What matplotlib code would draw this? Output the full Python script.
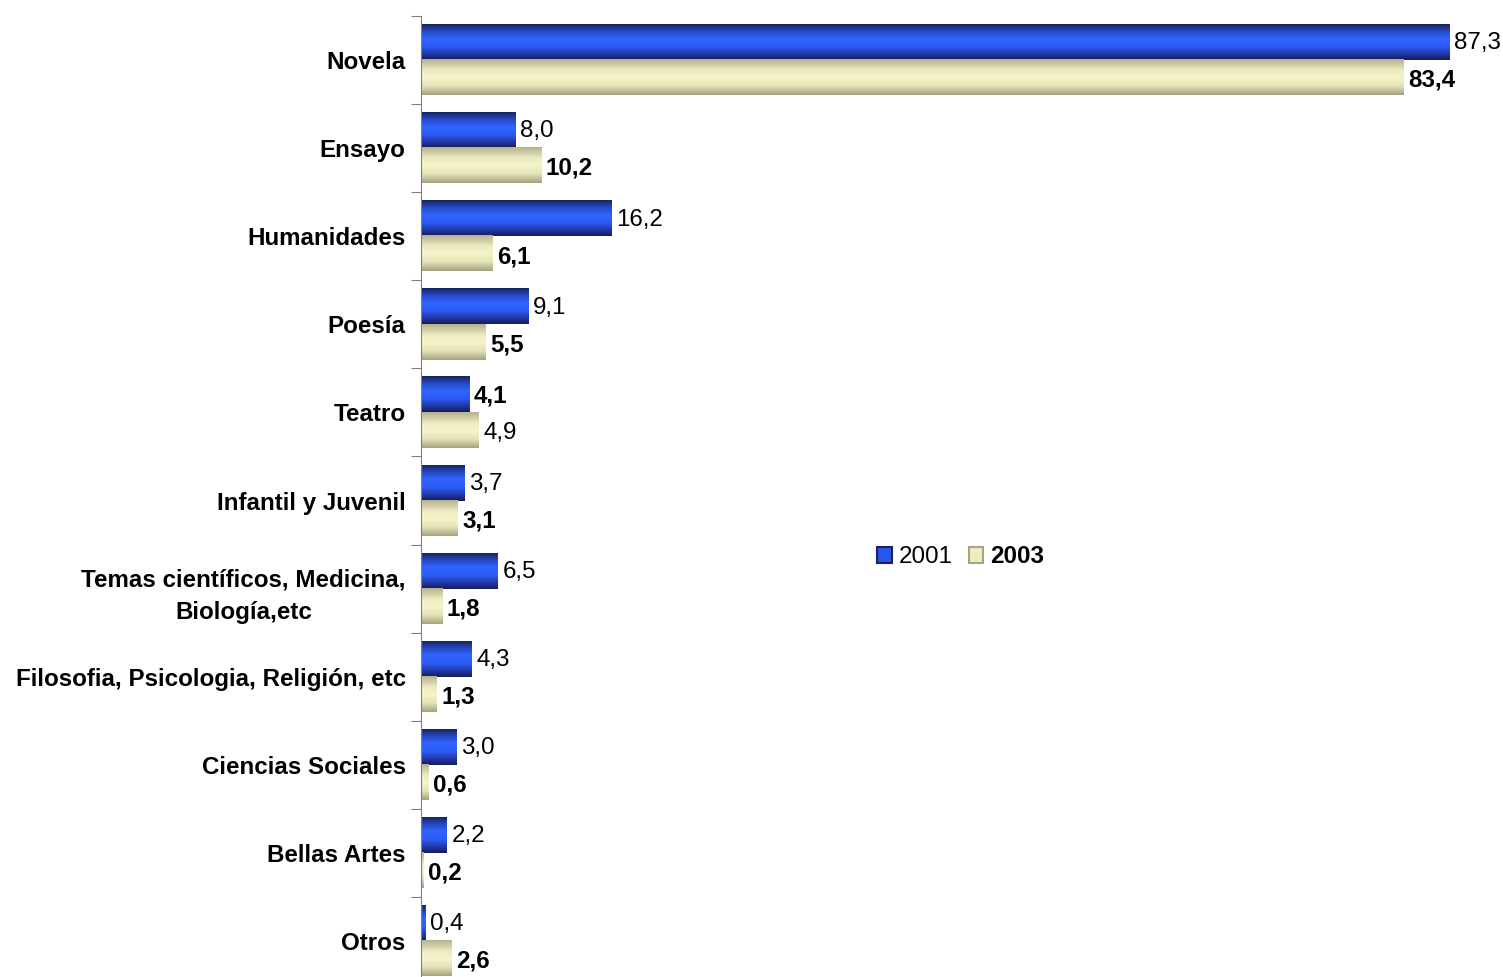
import numpy as np
import matplotlib
matplotlib.use("Agg")
from matplotlib import pyplot as plt
from matplotlib.colors import LinearSegmentedColormap
from matplotlib.patches import Patch

categorias = ["Novela", "Ensayo", "Humanidades", "Poesía", "Teatro",
              "Infantil y Juvenil", "Temas científicos, Medicina,\nBiología,etc",
              "Filosofia, Psicologia, Religión, etc", "Ciencias Sociales",
              "Bellas Artes", "Otros"]
v2001 = [87.3, 8.0, 16.2, 9.1, 4.1, 3.7, 6.5, 4.3, 3.0, 2.2, 0.4]
v2003 = [83.4, 10.2, 6.1, 5.5, 4.9, 3.1, 1.8, 1.3, 0.6, 0.2, 2.6]
lab2001 = ["87,3", "8,0", "16,2", "9,1", "4,1", "3,7", "6,5", "4,3", "3,0", "2,2", "0,4"]
lab2003 = ["83,4", "10,2", "6,1", "5,5", "4,9", "3,1", "1,8", "1,3", "0,6", "0,2", "2,6"]
# which labels are bold in the original
bold2001 = [False, False, False, False, True, False, False, False, False, False, False]
bold2003 = [True, True, True, True, False, True, True, True, True, True, True]

plt.rcParams['font.family'] = ['Liberation Sans', 'DejaVu Sans']
fs = 17.4

azul = LinearSegmentedColormap.from_list("azul", [(0, "#17255e"), (0.18, "#2646c0"), (0.4, "#3064ff"),
                                                  (0.62, "#2d5cf4"), (0.85, "#2034a0"), (1, "#131e5a")])
crema = LinearSegmentedColormap.from_list("crema", [(0, "#b5b38f"), (0.3, "#ecEAc0"), (0.5, "#f6f4cb"),
                                                    (0.75, "#e5e3b7"), (1, "#a6a482")])
grad = np.linspace(0, 1, 64).reshape(-1, 1)

fig = plt.figure(figsize=(15.03, 9.77), dpi=100)
ax = fig.add_axes([421 / 1503, -0.0082, 1 - 421 / 1503, 0.9918])

h = 0.4
n = len(categorias)
y = np.arange(n)
for i in range(n):
    ax.imshow(grad, cmap=azul, extent=[0, v2001[i], y[i], y[i] - h], aspect='auto',
              interpolation='bilinear', zorder=2)
    ax.imshow(grad, cmap=crema, extent=[0, v2003[i], y[i] + h, y[i]], aspect='auto',
              interpolation='bilinear', zorder=2)
    ax.text(v2001[i] + 0.4, y[i] - h / 2 + 0.01, lab2001[i], fontsize=fs, va='center', ha='left',
            fontweight='bold' if bold2001[i] else 'normal')
    ax.text(v2003[i] + 0.4, y[i] + h / 2 + 0.03, lab2003[i], fontsize=fs, va='center', ha='left',
            fontweight='bold' if bold2003[i] else 'normal')

ax.set_xlim(0, 91.85)
ax.set_ylim(n - 0.5, -0.5)
ax.set_xticks([])
ax.set_yticks(np.arange(-0.5, n, 1))
ax.set_yticklabels([])
ax.tick_params(axis='y', which='major', length=7, color='#808080')
ax.set_yticks(y, minor=True)
ax.set_yticklabels(categorias, minor=True, fontsize=fs, fontweight='bold')
ax.tick_params(axis='y', which='minor', length=0, pad=11)
for t in ax.get_yticklabels(minor=True):
    t.set_multialignment('center')
    t.set_linespacing(1.55)
for s in ["top", "right", "bottom"]:
    ax.spines[s].set_visible(False)
ax.spines["left"].set_color('#808080')

handles = [Patch(facecolor="#2a55e8", edgecolor="#17255e", linewidth=1.5),
           Patch(facecolor="#eeecc2", edgecolor="#a6a482", linewidth=1.5)]
leg = fig.legend(handles, ["2001", "2003"], loc='center', bbox_to_anchor=(0.6394, 0.4299),
                 ncol=2, frameon=False, fontsize=fs, handlelength=0.6, handleheight=0.6,
                 handletextpad=0.3, columnspacing=0.65)
leg.get_texts()[1].set_fontweight('bold')

fig.savefig("out.png", dpi=100)
